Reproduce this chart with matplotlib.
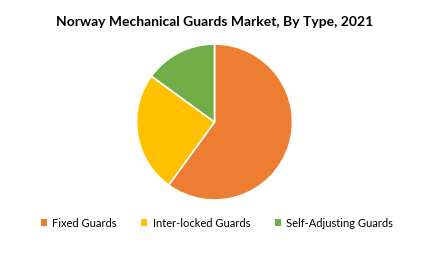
import matplotlib.pyplot as plt
from matplotlib.patches import Patch

labels = ['Fixed Guards', 'Inter-locked Guards', 'Self-Adjusting Guards']
shares = [60, 25, 15]
colors = ['#ED7D31', '#FFC000', '#70AD47']

plt.rcParams['font.family'] = ['Lato', 'DejaVu Sans']

fig = plt.figure(figsize=(4.42, 2.55), dpi=100)
ax = fig.add_axes([0, 0, 1, 1])
ax.set_xlim(0, 442)
ax.set_ylim(255, 0)
ax.axis('off')

# pie drawn in its own axes, centered at ~(214, 123), radius ~78 px
r = 78
cx, cy = 214.5, 123
pax = fig.add_axes([(cx - r) / 442, 1 - (cy + r) / 255, 2 * r / 442, 2 * r / 255])
pax.pie(shares, colors=colors, startangle=90, counterclock=False,
        wedgeprops=dict(edgecolor='white', linewidth=1.2), radius=1)
pax.set_xlim(-1, 1)
pax.set_ylim(-1, 1)
pax.set_aspect('auto')

fig.text(215 / 442, 1 - 22 / 255, 'Norway Mechanical Guards Market, By Type, 2021',
         ha='center', va='center', fontsize=10, fontweight='bold')

handles = [Patch(facecolor=c, edgecolor='none') for c in colors]
fig.legend(handles, labels, loc='center', bbox_to_anchor=(217 / 442, 1 - 224 / 255),
           ncol=3, frameon=False, fontsize=8, handlelength=0.55, handleheight=0.55,
           handletextpad=0.5, columnspacing=2.2)

fig.savefig('out.png', dpi=100)
